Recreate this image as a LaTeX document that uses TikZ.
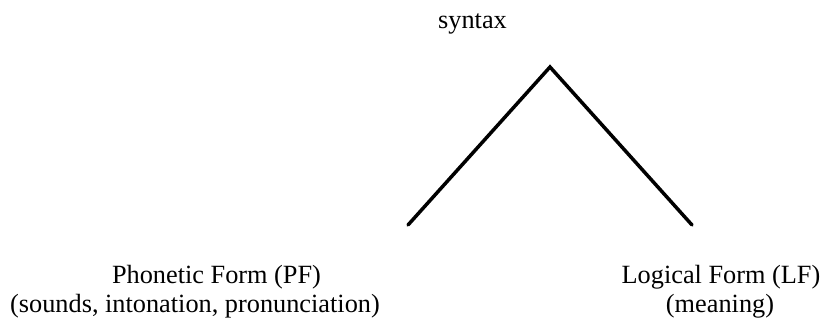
\documentclass[tikz,border=0pt]{standalone}
\usepackage{fontspec}
\setmainfont{Liberation Serif}
\begin{document}
\begin{tikzpicture}[x=1pt,y=-1pt,
  lbl/.style={inner sep=0pt, outer sep=0pt, anchor=base, font=\fontsize{26.3}{30}\selectfont},
  branch/.style={line width=3.5pt, line join=miter, line cap=round}]
\useasboundingbox (0,0) rectangle (824,322);
\node[lbl] (syn) at (472.5,28) {syntax};
\coordinate (apex) at (550,67);
\coordinate (lt) at (408,225);
\coordinate (rt) at (692,225);
\draw[branch] (lt) -- (apex) -- (rt);
\node[lbl] (pf) at (216.5,283) {Phonetic Form (PF)};
\node[lbl] (pfsub) at (195,312) {(sounds, intonation, pronunciation)};
\node[lbl] (lf) at (721,283) {Logical Form (LF)};
\node[lbl] (lfsub) at (720,312) {(meaning)};
\end{tikzpicture}
\end{document}
